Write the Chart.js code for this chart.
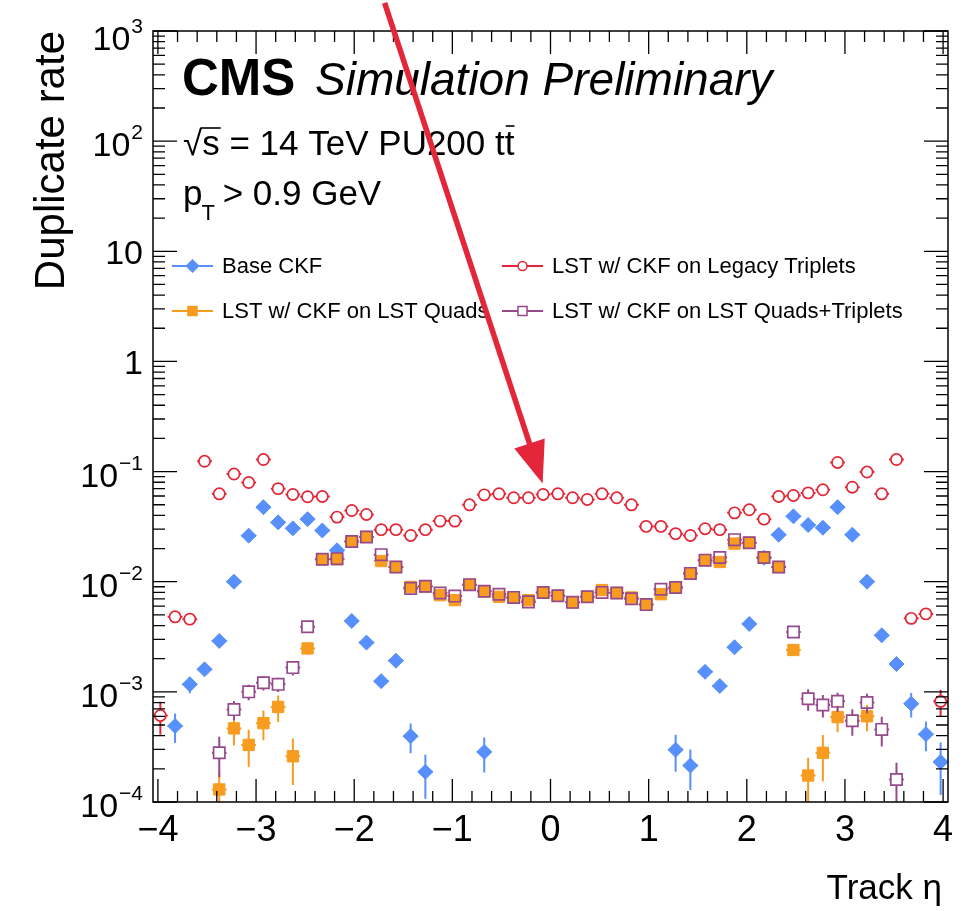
<!DOCTYPE html>
<html lang="en">
<head>
<meta charset="UTF-8">
<title>Duplicate rate vs Track eta</title>
<style>
  html, body { margin: 0; padding: 0; background: #fff; }
</style>
</head>
<body>
<canvas id="dupChart" width="968" height="911"></canvas>
<script src="https://cdn.jsdelivr.net/npm/chart.js"></script>
<script>
// bin centres in track eta (bin width 0.15)
const etaBins = [
  -3.975, -3.825, -3.675, -3.525, -3.375, -3.225, -3.075, -2.925, -2.775, -2.625,
  -2.475, -2.325, -2.175, -2.025, -1.875, -1.725, -1.575, -1.425, -1.275, -1.125,
  -0.975, -0.825, -0.675, -0.525, -0.375, -0.225, -0.075, 0.075, 0.225, 0.375,
  0.525, 0.675, 0.825, 0.975, 1.125, 1.275, 1.425, 1.575, 1.725, 1.875,
  2.025, 2.175, 2.325, 2.475, 2.625, 2.775, 2.925, 3.075, 3.225, 3.375,
  3.525, 3.675, 3.825, 3.975
];
const binHalfWidth = 0.075;

// Base CKF
const baseCkf = [
  null, 4.9e-4, 1.17e-3, 1.6e-3, 2.9e-3, 0.010, 0.0262, 0.0475, 0.0346, 0.0305,
  0.037, 0.0292, 0.0193, 4.4e-3, 2.8e-3, 1.25e-3, 1.92e-3, 3.96e-4, 1.88e-4, null,
  null, null, 2.85e-4, null, null, null, null, null, null, null,
  null, null, null, null, null, 2.98e-4, 2.14e-4, 1.52e-3, 1.13e-3, 2.54e-3,
  4.14e-3, 0.0165, 0.0267, 0.0392, 0.0327, 0.0309, 0.0475, 0.0267, 0.010, 3.26e-3,
  1.79e-3, 7.8e-4, 4.13e-4, 2.31e-4
];
const baseCkfErr = [
  0, 0.30, 0.17, 0.10, 0.08, 0.03, 0.03, 0.03, 0.03, 0.03,
  0.03, 0.03, 0.03, 0.05, 0.07, 0.10, 0.08, 0.30, 0.43, 0,
  0, 0, 0.35, 0, 0, 0, 0, 0, 0, 0,
  0, 0, 0, 0, 0, 0.37, 0.40, 0.10, 0.11, 0.07,
  0.05, 0.03, 0.03, 0.03, 0.03, 0.03, 0.03, 0.03, 0.03, 0.07,
  0.09, 0.25, 0.30, 0.50
];

// LST w/ CKF on Legacy Triplets
const lstLegacy = [
  6.1e-4, 4.8e-3, 4.57e-3, 0.124, 0.0628, 0.095, 0.0795, 0.1286, 0.070, 0.062,
  0.059, 0.0594, 0.0386, 0.0443, 0.0408, 0.0297, 0.0297, 0.0263, 0.0297, 0.0355,
  0.0355, 0.0499, 0.0615, 0.0628, 0.0578, 0.0578, 0.062, 0.0628, 0.0578, 0.0558,
  0.0628, 0.0578, 0.0499, 0.0318, 0.0318, 0.0273, 0.0263, 0.0303, 0.0297, 0.0422,
  0.045, 0.037, 0.0594, 0.0607, 0.064, 0.0683, 0.121, 0.0721, 0.099, 0.0628,
  0.1286, 4.65e-3, 5.1e-3, 8.2e-4
];
const lstLegacyErr = [
  0.33, 0.05, 0.05, 0.02, 0.02, 0.02, 0.02, 0.02, 0.02, 0.02,
  0.02, 0.02, 0.02, 0.02, 0.02, 0.02, 0.02, 0.02, 0.02, 0.02,
  0.02, 0.02, 0.02, 0.02, 0.02, 0.02, 0.02, 0.02, 0.02, 0.02,
  0.02, 0.02, 0.02, 0.02, 0.02, 0.02, 0.02, 0.02, 0.02, 0.02,
  0.02, 0.02, 0.02, 0.02, 0.02, 0.02, 0.02, 0.02, 0.02, 0.02,
  0.02, 0.05, 0.05, 0.27
];

// LST w/ CKF on LST Quads
const lstQuads = [
  null, null, null, null, 1.3e-4, 4.66e-4, 3.3e-4, 5.2e-4, 7.3e-4, 2.6e-4,
  2.48e-3, 0.016, 0.016, 0.0232, 0.0255, 0.0154, 0.0136, 8.97e-3, 9.0e-3, 7.55e-3,
  6.8e-3, 9.4e-3, 8.2e-3, 7.3e-3, 7.2e-3, 6.8e-3, 7.98e-3, 7.45e-3, 6.5e-3, 7.3e-3,
  8.4e-3, 7.9e-3, 7.2e-3, 6.2e-3, 7.7e-3, 8.85e-3, 0.0119, 0.0157, 0.0151, 0.0222,
  0.0226, 0.0166, 0.0136, 2.4e-3, 1.74e-4, 2.8e-4, 5.9e-4, null, 6.0e-4, null,
  null, null, null, null
];
const lstQuadsErr = [
  0, 0, 0, 0, 0.45, 0.30, 0.37, 0.30, 0.27, 0.45,
  0.12, 0.03, 0.03, 0.03, 0.03, 0.03, 0.03, 0.03, 0.03, 0.03,
  0.03, 0.03, 0.03, 0.03, 0.03, 0.03, 0.03, 0.03, 0.03, 0.03,
  0.03, 0.03, 0.03, 0.03, 0.03, 0.03, 0.03, 0.03, 0.03, 0.03,
  0.03, 0.03, 0.03, 0.12, 0.45, 0.45, 0.27, 0, 0.27, 0,
  0, 0, 0, 0
];

// LST w/ CKF on LST Quads+Triplets
const lstQuadsTrip = [
  null, null, null, null, 2.8e-4, 6.9e-4, 1.0e-3, 1.21e-3, 1.17e-3, 1.66e-3,
  3.9e-3, 0.016, 0.0162, 0.0232, 0.0255, 0.0176, 0.0136, 8.7e-3, 9.1e-3, 7.9e-3,
  7.4e-3, 9.4e-3, 8.2e-3, 7.7e-3, 7.2e-3, 6.56e-3, 7.98e-3, 7.45e-3, 6.5e-3, 7.3e-3,
  8.0e-3, 7.9e-3, 7.0e-3, 6.2e-3, 8.55e-3, 8.85e-3, 0.0119, 0.0157, 0.0166, 0.0241,
  0.0226, 0.0166, 0.0136, 3.5e-3, 8.65e-4, 7.6e-4, 8.2e-4, 5.47e-4, 8.0e-4, 4.56e-4,
  1.6e-4, null, null, null
];
const lstQuadsTripErr = [
  0, 0, 0, 0, 0.40, 0.20, 0.16, 0.15, 0.15, 0.15,
  0.08, 0.03, 0.03, 0.03, 0.03, 0.03, 0.03, 0.03, 0.03, 0.03,
  0.03, 0.03, 0.03, 0.03, 0.03, 0.03, 0.03, 0.03, 0.03, 0.03,
  0.03, 0.03, 0.03, 0.03, 0.03, 0.03, 0.03, 0.03, 0.03, 0.03,
  0.03, 0.03, 0.03, 0.08, 0.22, 0.23, 0.20, 0.27, 0.20, 0.30,
  0.42, 0, 0, 0
];

const seriesLabels = [
  'Base CKF',
  'LST w/ CKF on Legacy Triplets',
  'LST w/ CKF on LST Quads',
  'LST w/ CKF on LST Quads+Triplets'
];

// annotation arrow (data coordinates)
const arrowFrom = { x: -1.69, y: 1800 };
const arrowTo = { x: -0.08, y: 0.078 };

const FONT = '"Liberation Sans", Helvetica, Arial, sans-serif';
const BLUE = '#5790fc', RED = '#e42536', ORANGE = '#f89c20', PURPLE = '#964a8b';

function points(vals, errs) {
  const out = [];
  etaBins.forEach((x, i) => {
    if (vals[i] !== null) out.push({ x: x, y: vals[i], err: errs[i] });
  });
  return out;
}

function pointGap(ds) {
  if (!ds.hollow) return 0;
  return ds.pointStyle === 'rect' ? ds.pointRadius * Math.SQRT1_2 : ds.pointRadius;
}

// ROOT-like frame, ticks, error bars and texts
const rootStyle = {
  id: 'rootStyle',
  beforeDatasetDraw(chart, args) {
    const ds = chart.data.datasets[args.index];
    const xs = chart.scales.x, ys = chart.scales.y, a = chart.chartArea;
    const ctx = chart.ctx;
    const gap = pointGap(ds);
    ctx.save();
    ctx.beginPath();
    ctx.rect(a.left, a.top, a.right - a.left, a.bottom - a.top);
    ctx.clip();
    ctx.strokeStyle = ds.pointBorderColor;
    ctx.lineWidth = 2;
    ds.data.forEach(p => {
      const cx = xs.getPixelForValue(p.x), cy = ys.getPixelForValue(p.y);
      const xl = xs.getPixelForValue(p.x - binHalfWidth), xr = xs.getPixelForValue(p.x + binHalfWidth);
      ctx.beginPath();
      ctx.moveTo(xl, cy); ctx.lineTo(cx - gap, cy);
      ctx.moveTo(cx + gap, cy); ctx.lineTo(xr, cy);
      if (p.err > 0) {
        const yt = ys.getPixelForValue(p.y * (1 + p.err));
        const yb = ys.getPixelForValue(p.y * (1 - p.err));
        if (cy - yt > gap) { ctx.moveTo(cx, cy - gap); ctx.lineTo(cx, yt); }
        if (yb - cy > gap) { ctx.moveTo(cx, cy + gap); ctx.lineTo(cx, yb); }
      }
      ctx.stroke();
    });
    ctx.restore();
  },
  afterDraw(chart) {
    const xs = chart.scales.x, ys = chart.scales.y, a = chart.chartArea;
    const ctx = chart.ctx;
    ctx.save();

    // frame
    ctx.strokeStyle = '#000';
    ctx.lineWidth = 1.5;
    ctx.strokeRect(a.left, a.top, a.right - a.left, a.bottom - a.top);

    // ticks
    ctx.lineWidth = 1.3;
    ctx.beginPath();
    for (let k = 0; k <= 40; k++) {
      const px = xs.getPixelForValue(-4 + k * 0.2);
      const len = k % 5 === 0 ? 23 : 11;
      ctx.moveTo(px, a.bottom); ctx.lineTo(px, a.bottom - len);
      ctx.moveTo(px, a.top); ctx.lineTo(px, a.top + len);
    }
    for (let d = -4; d <= 3; d++) {
      for (let m = 1; m <= 9; m++) {
        if (d === 3 && m > 1) break;
        const py = ys.getPixelForValue(m * Math.pow(10, d));
        const len = m === 1 ? 24 : 12;
        ctx.moveTo(a.left, py); ctx.lineTo(a.left + len, py);
        ctx.moveTo(a.right, py); ctx.lineTo(a.right - len, py);
      }
    }
    ctx.stroke();

    // x tick labels
    ctx.fillStyle = '#000';
    ctx.font = '36px ' + FONT;
    ctx.textAlign = 'center';
    ctx.textBaseline = 'alphabetic';
    for (let v = -4; v <= 4; v++) {
      const txt = v < 0 ? '\u2212' + (-v) : String(v);
      ctx.fillText(txt, xs.getPixelForValue(v), 841);
    }

    // y tick labels
    const rightEdge = 143;
    for (let d = -4; d <= 3; d++) {
      let py = ys.getPixelForValue(Math.pow(10, d));
      if (d === 3) py += 4;
      ctx.textAlign = 'left';
      if (d === 0 || d === 1) {
        ctx.font = '34px ' + FONT;
        const t = d === 0 ? '1' : '10';
        ctx.fillText(t, rightEdge - ctx.measureText(t).width, py + 13);
        continue;
      }
      const sup = d < 0 ? '\u2212' + (-d) : String(d);
      ctx.font = '21px ' + FONT;
      const sw = ctx.measureText(sup).width;
      ctx.fillText(sup, rightEdge - sw, py - 2);
      ctx.font = '34px ' + FONT;
      const bw = ctx.measureText('10').width;
      ctx.fillText('10', rightEdge - sw - bw - 1, py + 15);
    }

    // axis titles
    ctx.font = '35px ' + FONT;
    ctx.textAlign = 'right';
    ctx.fillText('Track \u03b7', a.right - 6, 899);
    ctx.save();
    ctx.translate(64, a.top);
    ctx.rotate(-Math.PI / 2);
    ctx.font = '42px ' + FONT;
    ctx.textAlign = 'right';
    ctx.fillText('Duplicate rate', 0, 0);
    ctx.restore();

    // CMS label
    ctx.textAlign = 'left';
    ctx.font = 'bold 51px ' + FONT;
    ctx.fillText('CMS', 182, 95);
    ctx.font = 'italic 46px ' + FONT;
    ctx.fillText('Simulation Preliminary', 315, 95);

    // sqrt(s) line
    ctx.font = '35px ' + FONT;
    const x0 = 183;
    const yb1 = 155;
    const rootW = ctx.measureText('\u221a').width;
    ctx.fillText('\u221a', x0, yb1);
    const sW = ctx.measureText('s').width;
    ctx.fillText('s = 14 TeV PU200 t', x0 + rootW, yb1);
    ctx.lineWidth = 1.6;
    ctx.beginPath();
    ctx.moveTo(x0 + rootW - 1, yb1 - 27); ctx.lineTo(x0 + rootW + sW + 1, yb1 - 27);
    ctx.stroke();
    const tx = x0 + rootW + ctx.measureText('s = 14 TeV PU200 t').width;
    const tW = ctx.measureText('t').width;
    ctx.fillText('t', tx, yb1);
    ctx.beginPath();
    ctx.moveTo(tx + 1, yb1 - 29); ctx.lineTo(tx + tW, yb1 - 29);
    ctx.stroke();

    // pT line
    const yb2 = 205;
    ctx.fillText('p', 183, yb2);
    const pW = ctx.measureText('p').width;
    ctx.font = '22px ' + FONT;
    ctx.fillText('T', 183 + pW - 1, yb2 + 15);
    const TW = ctx.measureText('T').width;
    ctx.font = '35px ' + FONT;
    ctx.fillText(' > 0.9 GeV', 183 + pW + TW - 3, yb2);

    // legend
    const sets = chart.data.datasets;
    const slots = [
      { lx: 172, ly: 266 }, { lx: 502, ly: 266 },
      { lx: 172, ly: 311 }, { lx: 502, ly: 311 }
    ];
    ctx.font = '22px ' + FONT;
    ctx.textBaseline = 'middle';
    sets.forEach(ds => {
      const s = slots[ds.legendSlot];
      ctx.strokeStyle = ds.pointBorderColor;
      ctx.lineWidth = 2;
      ctx.beginPath();
      ctx.moveTo(s.lx, s.ly); ctx.lineTo(s.lx + 41, s.ly);
      ctx.stroke();
      ctx.fillStyle = ds.hollow ? '#fff' : ds.pointBackgroundColor;
      ctx.lineWidth = 1.5;
      Chart.helpers.drawPoint(ctx, {
        pointStyle: ds.pointStyle, radius: ds.pointRadius * 0.8,
        rotation: 0, borderWidth: 1.5
      }, s.lx + 20.5, s.ly);
      ctx.fillStyle = '#000';
      ctx.fillText(ds.label, s.lx + 50, s.ly + 1);
    });

    // annotation arrow
    const ax0 = xs.getPixelForValue(arrowFrom.x), ay0 = ys.getPixelForValue(arrowFrom.y);
    const ax1 = xs.getPixelForValue(arrowTo.x), ay1 = ys.getPixelForValue(arrowTo.y);
    const dx = ax1 - ax0, dy = ay1 - ay0, L = Math.hypot(dx, dy);
    const ux = dx / L, uy = dy / L;
    const headLen = 42, headHalf = 16;
    const bx = ax1 - ux * headLen, by = ay1 - uy * headLen;
    ctx.strokeStyle = '#e3263a';
    ctx.fillStyle = '#e3263a';
    ctx.lineWidth = 5.5;
    ctx.beginPath();
    ctx.moveTo(ax0, ay0); ctx.lineTo(bx + ux * 4, by + uy * 4);
    ctx.stroke();
    ctx.beginPath();
    ctx.moveTo(ax1, ay1);
    ctx.lineTo(bx - uy * headHalf, by + ux * headHalf);
    ctx.lineTo(bx + uy * headHalf, by - ux * headHalf);
    ctx.closePath();
    ctx.fill();

    ctx.restore();
  }
};

const ctx = document.getElementById('dupChart').getContext('2d');
new Chart(ctx, {
  type: 'scatter',
  data: {
    datasets: [
      {
        label: seriesLabels[0], data: points(baseCkf, baseCkfErr), order: 4, legendSlot: 0,
        pointStyle: 'rectRot', pointRadius: 7.5, pointBorderWidth: 1,
        pointBackgroundColor: BLUE, pointBorderColor: BLUE, borderColor: BLUE, hollow: false
      },
      {
        label: seriesLabels[1], data: points(lstLegacy, lstLegacyErr), order: 3, legendSlot: 1,
        pointStyle: 'circle', pointRadius: 5.6, pointBorderWidth: 1.7,
        pointBackgroundColor: 'rgba(255,255,255,0)', pointBorderColor: RED, borderColor: RED, hollow: true
      },
      {
        label: seriesLabels[2], data: points(lstQuads, lstQuadsErr), order: 2, legendSlot: 2,
        pointStyle: 'rect', pointRadius: 8, pointBorderWidth: 1,
        pointBackgroundColor: ORANGE, pointBorderColor: ORANGE, borderColor: ORANGE, hollow: false
      },
      {
        label: seriesLabels[3], data: points(lstQuadsTrip, lstQuadsTripErr), order: 1, legendSlot: 3,
        pointStyle: 'rect', pointRadius: 8, pointBorderWidth: 1.7,
        pointBackgroundColor: 'rgba(255,255,255,0)', pointBorderColor: PURPLE, borderColor: PURPLE, hollow: true
      }
    ]
  },
  options: {
    responsive: false,
    animation: false,
    events: [],
    layout: { padding: { left: 153, right: 20, top: 31, bottom: 109 } },
    plugins: { legend: { display: false }, tooltip: { enabled: false } },
    scales: {
      x: { type: 'linear', min: -4.05, max: 4.05, display: false },
      y: { type: 'logarithmic', min: 1e-4, max: 1e3, display: false }
    }
  },
  plugins: [rootStyle]
});
</script>
</body>
</html>
